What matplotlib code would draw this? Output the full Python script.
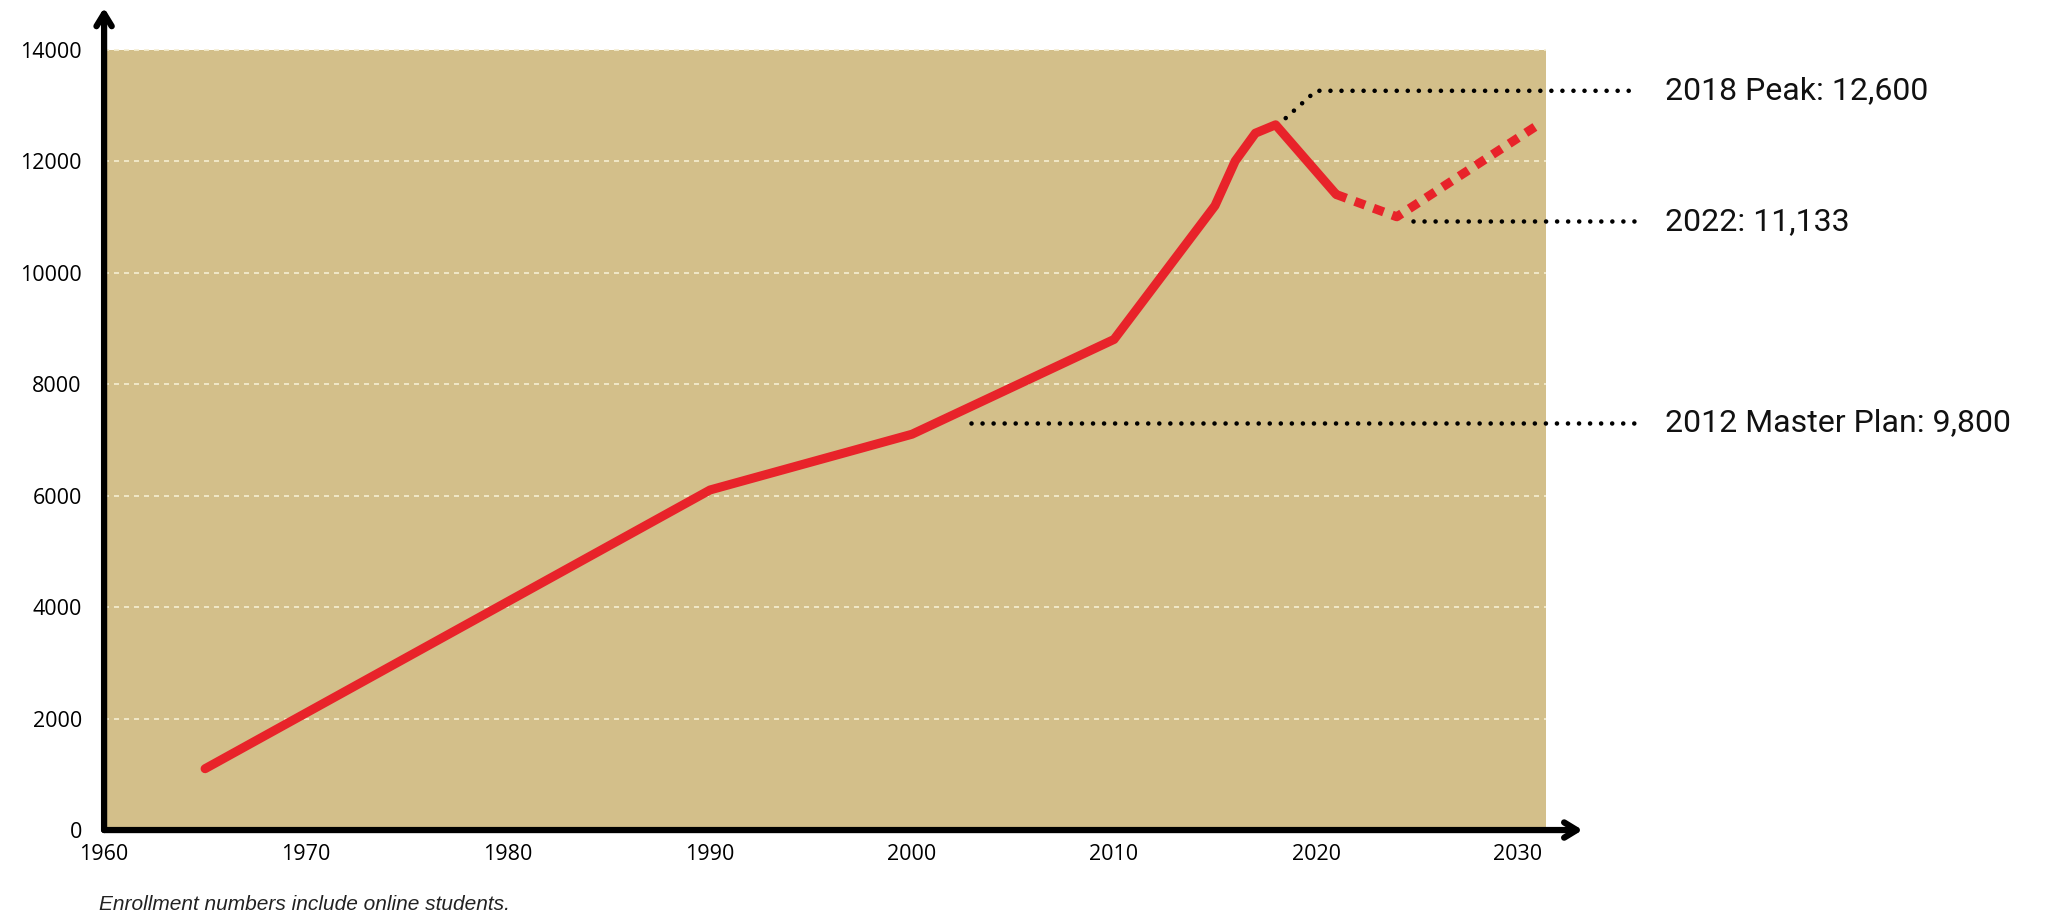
import matplotlib.pyplot as plt
from matplotlib.patches import Rectangle

# ------------------ DADOS ------------------
years = [1965, 1990, 2000, 2010, 2015, 2016, 2017, 2018, 2021]
enrollment = [1100, 6100, 7100, 8800, 11200, 12000, 12500, 12650, 11400]

proj_years = [2021, 2024, 2031]
proj_enrollment = [11400, 11000, 12650]

xticks = [1960, 1970, 1980, 1990, 2000, 2010, 2020, 2030]
yticks = [0, 2000, 4000, 6000, 8000, 10000, 12000, 14000]

callout_labels = ["2018 Peak: 12,600", "2022: 11,133", "2012 Master Plan: 9,800"]
callout_x = [[2018.5, 2020.0, 2036.0], [2024.8, 2036.0], [2002.9, 2036.0]]
callout_y = [[12770, 13260, 13260], [10920, 10920], [7300, 7300]]

footnote = "Enrollment numbers include online students."

# ------------------ CORES ------------------
bg_color = '#D3BF8A'
grid_color = '#F5EED2'
red = '#E8232A'

fig = plt.figure(figsize=(20.45, 9.19), dpi=100)
ax = fig.add_axes([0.0509, 0.0968, 0.7230, 0.8948])
ax.set_xlim(1960, 2033.2)
ax.set_ylim(0, 14750)

# fundo e grade
ax.add_patch(Rectangle((1960, 0), 71.4, 14000, color=bg_color, zorder=0, lw=0))
ax.hlines(yticks[1:], 1960, 2031.4, colors=grid_color, linestyles=(0, (3, 3)),
          lw=1.2, zorder=1)

# serie principal + projecao
ax.plot(years, enrollment, color=red, lw=6.5, solid_capstyle='round',
        solid_joinstyle='round', zorder=3)
ax.plot(proj_years, proj_enrollment, color=red, lw=6.5, linestyle=(0, (1.2, 1.0)),
        dash_capstyle='butt', zorder=3)

# linhas pontilhadas + textos
for xs, ys, lab in zip(callout_x, callout_y, callout_labels):
    ax.plot(xs, ys, color='black', lw=3.3, linestyle=(0, (0.01, 2.4)),
            dash_capstyle='round', clip_on=False, zorder=4)
    ax.text(xs[-1] + 1.3, ys[-1], lab, fontsize=23, family='Roboto',
            va='center', ha='left', color='#111111', clip_on=False)

# eixos com setas
for s in ax.spines.values():
    s.set_visible(False)
arrow = dict(arrowstyle='->,head_length=0.9,head_width=0.55', lw=4.5,
             color='black', shrinkA=0, shrinkB=0)
ax.annotate('', xy=(1, 0), xytext=(0, 0), xycoords='axes fraction',
            arrowprops=arrow, zorder=5)
ax.annotate('', xy=(0, 1), xytext=(0, 0), xycoords='axes fraction',
            arrowprops=arrow, zorder=5)

ax.set_xticks(xticks)
ax.set_yticks(yticks)
ax.tick_params(length=0, labelsize=15.5)
ax.tick_params(axis='y', pad=16)
ax.tick_params(axis='x', pad=10)
for t in ax.get_xticklabels() + ax.get_yticklabels():
    t.set_family('Open Sans')

fig.text(99 / 2045, 1 - 905 / 919, footnote, fontsize=15, style='italic',
         family='Liberation Sans', va='center', ha='left', color='#222222')

fig.savefig('out.png', dpi=100)
